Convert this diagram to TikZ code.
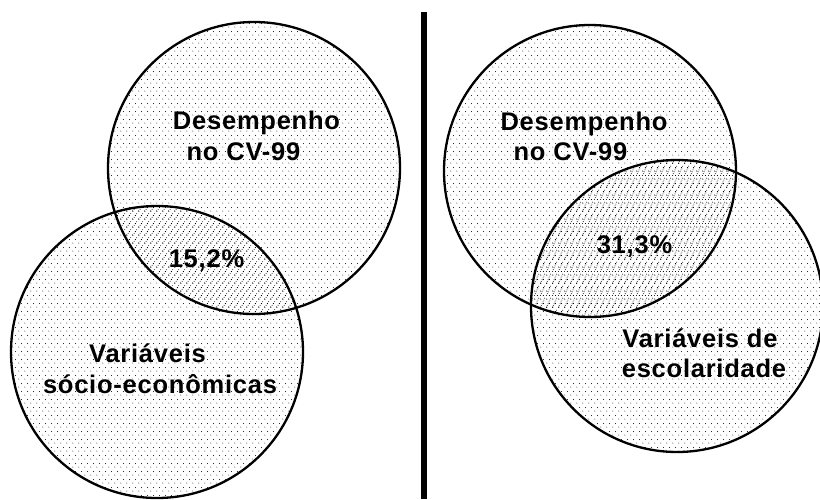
\documentclass[tikz,border=0pt]{standalone}
\usepackage{fontspec}
\setmainfont{Liberation Sans}[LetterSpace=3]
\usetikzlibrary{patterns.meta}

\tikzdeclarepattern{
  name=sparse dots,
  type=uncolored,
  bounding box={(0pt,0pt) and (6pt,8pt)},
  tile size={(6pt,8pt)},
  code={
    \fill (1pt,1pt) circle (0.55pt);
    \fill (4pt,5pt) circle (0.55pt);
  }
}
\tikzdeclarepattern{
  name=dense dots,
  type=uncolored,
  bounding box={(0pt,0pt) and (6pt,8pt)},
  tile size={(6pt,8pt)},
  code={
    \fill (1pt,1pt) circle (0.55pt);
    \fill (4pt,5pt) circle (0.55pt);
    \fill (2.5pt,3pt) circle (0.55pt);
    \fill (5.5pt,7pt) circle (0.55pt);
  }
}
\tikzdeclarepattern{
  name=dot lines,
  type=uncolored,
  bounding box={(0pt,0pt) and (6pt,12pt)},
  tile size={(6pt,12pt)},
  code={
    \foreach \k in {0,...,5}
      \fill ({\k*1pt+0.5pt},{\k*2pt+0.5pt}) circle (0.55pt);
  }
}

\begin{document}
\begin{tikzpicture}[x=1pt, y=-1pt,
          ring/.style={line width=2.3pt},
          lbl/.style={inner sep=0pt, anchor=base, font=\fontsize{25.5}{30}\bfseries\selectfont}]
        \useasboundingbox[fill=white] (0,0) rectangle (820,499);
        \coordinate (lt) at (254,168);
        \coordinate (lb) at (157,352);
        \coordinate (rt) at (590,171);
        \coordinate (rb) at (677,306);
        \coordinate (bartop) at (424,12);
        \coordinate (barbot) at (424,499);

        % left pair
        \fill[pattern=sparse dots] (lt) circle (146pt);
        \fill[pattern=sparse dots] (lb) circle (146pt);
        \begin{scope}
          \clip (lt) circle (146pt);
          \fill[pattern=dense dots] (lb) circle (146pt);
        \end{scope}
        \draw[ring] (lt) circle (146pt);
        \draw[ring] (lb) circle (146pt);

        % right pair
        \fill[pattern=sparse dots] (rt) circle (146pt);
        \fill[pattern=sparse dots] (rb) circle (146pt);
        \begin{scope}
          \clip (rt) circle (146pt);
          \fill[pattern=dot lines] (rb) circle (146pt);
        \end{scope}
        \draw[ring] (rt) circle (146pt);
        \draw[ring] (rb) circle (146pt);

        \draw[line width=6pt] (bartop) -- (barbot);

        \node[lbl] (ld1) at (256.5,129) {Desempenho};
        \node[lbl] (ld2) at (243.5,160) {no CV-99};
        \node[lbl] (lpc) at (206.5,267) {15,2\%};
        \node[lbl] (lv1) at (147.5,362) {Variáveis};
        \node[lbl] (lv2) at (160,393) {sócio-econômicas};

        \node[lbl] (rd1) at (584,130) {Desempenho};
        \node[lbl] (rd2) at (570.5,160) {no CV-99};
        \node[lbl] (rpc) at (634.5,253) {31,3\%};
        \node[lbl] (rv1) at (700,347) {Variáveis de};
        \node[lbl] (rv2) at (704,377) {escolaridade};
      \end{tikzpicture}
\end{document}
